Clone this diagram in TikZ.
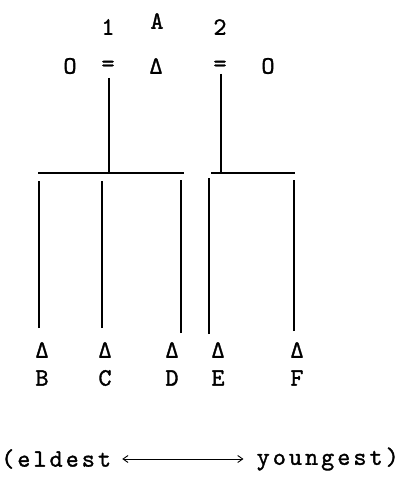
\documentclass[tikz,border=0pt]{standalone}
\usepackage{fontspec}
\newfontfamily\typer{lmmono10-regular}[Extension=.otf, FakeBold=1.3]
\usetikzlibrary{arrows.meta,positioning}

\begin{document}
\begin{tikzpicture}[
    x=1pt, y=-1pt,
    >={Straight Barb[length=5pt,width=7pt]},
    sym/.style={font=\typer\fontsize{25}{25}\selectfont, inner sep=0pt},
    order/.style={font=\typer\fontsize{25}{25}\selectfont\addfontfeature{LetterSpace=12}, inner sep=0pt},
    kin/.style={line width=1.6pt}
  ]
    \useasboundingbox (0,0) rectangle (400,489);
    % parents with marriage signs
    \node[sym] (one) at (108,27) {1};
    \node[sym] (ego) at (157,21) {A};
    \node[sym] (two) at (220,27) {2};
    \node[sym] (wifeL) at (70,66) {O};
    \node[sym] (eqL) at (108,66) {=};
    \node[sym] (man) at (156,66) {Δ};
    \node[sym] (eqR) at (220,66) {=};
    \node[sym] (wifeR) at (268,66) {O};
    % sibling bars
    \coordinate (barL) at (38,173);
    \coordinate (barLend) at (184,173);
    \coordinate (barR) at (211,173);
    \coordinate (barRend) at (295,173);
    % children
    \node[sym] (sonB) at (42,350) {Δ};
    \node[sym] (sonC) at (105,350) {Δ};
    \node[sym] (sonD) at (172,350) {Δ};
    \node[sym] (sonE) at (218,350) {Δ};
    \node[sym] (sonF) at (297,350) {Δ};
    \node[sym] (nameB) at (42,378) {B};
    \node[sym] (nameC) at (105,378) {C};
    \node[sym] (nameD) at (172,378) {D};
    \node[sym] (nameE) at (218,378) {E};
    \node[sym] (nameF) at (297,378) {F};
    \draw[kin] ([xshift=1pt,yshift=-12pt]eqL.center) -- ([xshift=1pt]eqL.center |- barL);
    \draw[kin] ([xshift=1pt,yshift=-8pt]eqR.center) -- ([xshift=1pt]eqR.center |- barR);
    \draw[kin] (barL) -- (barLend);
    \draw[kin] (barR) -- (barRend);
    \draw[kin] ([xshift=-3pt,yshift=14pt]sonB.north) -- ([xshift=-3pt,yshift=-8pt]sonB.north |- barL);
    \draw[kin] ([xshift=-3pt,yshift=14pt]sonC.north) -- ([xshift=-3pt,yshift=-8pt]sonC.north |- barL);
    \draw[kin] ([xshift=9pt,yshift=9pt]sonD.north) -- ([xshift=9pt,yshift=-7pt]sonD.north |- barL);
    \draw[kin] ([xshift=-9pt,yshift=8pt]sonE.north) -- ([xshift=-9pt,yshift=-5pt]sonE.north |- barR);
    \draw[kin] ([xshift=-3pt,yshift=11pt]sonF.north) -- ([xshift=-3pt,yshift=-7pt]sonF.north |- barR);
    % birth order
    \node[order, anchor=west] (eldest) at (1,459) {(eldest};
    \node[order, anchor=east] (youngest) at (399,459) {youngest)};
    \draw[<->, line width=0.9pt] ([xshift=11pt]eldest.east) -- ([xshift=-13pt]youngest.west);
\end{tikzpicture}
\end{document}
